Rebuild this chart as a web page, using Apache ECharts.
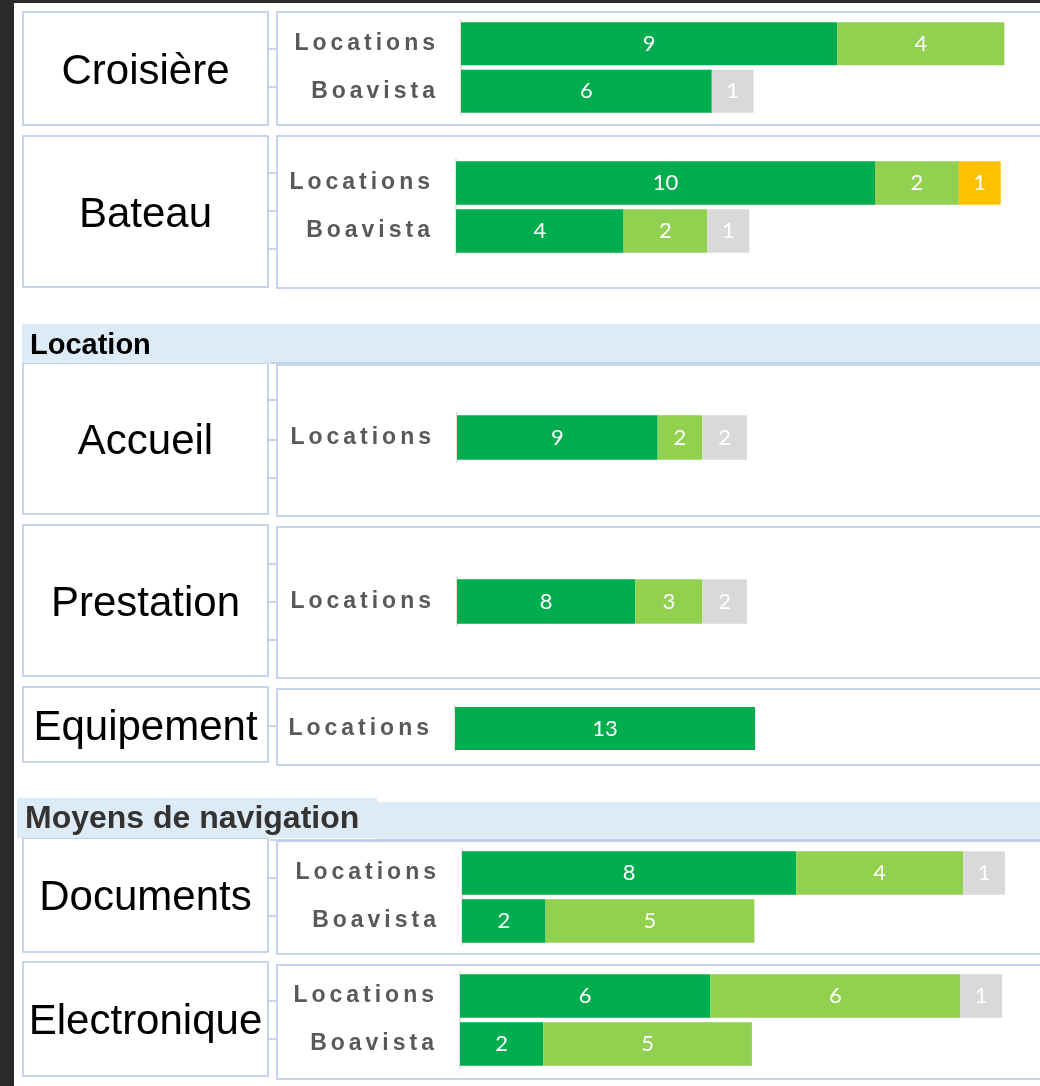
<!DOCTYPE html>
<html>
<head>
<meta charset="utf-8">
<script src="https://cdn.jsdelivr.net/npm/echarts@6/dist/echarts.min.js"></script>
<style>
  html, body { margin: 0; padding: 0; background: #ffffff; }
  #main { width: 1040px; height: 1086px; }
</style>
</head>
<body>
<div id="main"></div>
<script>
// themes (one small chart each) and their rows
const themes = ["Croisière", "Bateau", "Accueil", "Prestation", "Equipement", "Documents", "Electronique"];
const rowLabels = [
  ["Locations", "Boavista"],
  ["Locations", "Boavista"],
  ["Locations"],
  ["Locations"],
  ["Locations"],
  ["Locations", "Boavista"],
  ["Locations", "Boavista"]
];
// counts per satisfaction level, one list per theme
const tresSatisfait = [[9, 6], [10, 4], [9], [8], [13], [8, 2], [6, 2]];
const satisfait     = [[4, 0], [2, 2], [2], [3], [0], [4, 5], [6, 5]];
const peuSatisfait  = [[0, 0], [1, 0], [0], [0], [0], [0, 0], [0, 0]];
const sansAvis      = [[0, 1], [0, 1], [2], [2], [0], [1, 0], [1, 0]];

// section headers
const sections = [
  { text: "Location", after: 1 },
  { text: "Moyens de navigation", after: 4 }
];

// layout
const boxTop = [12, 136, 363, 525, 687, 838, 962];
const boxBottom = [125, 287, 514, 676, 762, 952, 1076];
const plotTop = [12, 136, 365, 527, 689, 841, 965];
const plotBottom = [125, 288, 516, 678, 765, 954, 1079];
const gridLeft = [461, 456, 457, 457, 455, 462, 460];
const gridTop = [20, 159, 413, 577, 705, 849, 972];
const gridHeight = [95, 96, 49, 49, 47, 96, 96];
// pixels per unit of each small chart (each had its own scale)
const unitPx = [41.8, 41.9, 22.3, 22.3, 23.08, 41.77, 41.7];
const tickYs = [[49, 87], [173, 211, 249], [400, 440, 478], [564, 602, 640], [726], [878, 916], [1001, 1039]];

const levels = [
  { name: "Très satisfait", data: tresSatisfait, color: "#00AD4E" },
  { name: "Satisfait", data: satisfait, color: "#92D050" },
  { name: "Peu satisfait", data: peuSatisfait, color: "#FFC000" },
  { name: "Sans avis", data: sansAvis, color: "#D9D9D9" }
];

const BORDER = "#B4C7E7";
const SANS = "'Liberation Sans', Arial, sans-serif";
const W = 1040;

const grids = [], xAxes = [], yAxes = [], series = [], graphics = [];

graphics.push({ type: "rect", shape: { x: 0, y: 0, width: 14, height: 1086 }, style: { fill: "#2B2B2B" }, z: 10 });
graphics.push({ type: "rect", shape: { x: 0, y: 0, width: W, height: 3 }, style: { fill: "#2B2B2B" }, z: 10 });

themes.forEach(function (theme, i) {
  // frames
  graphics.push({
    type: "rect", z: 0,
    shape: { x: 23, y: boxTop[i], width: 245, height: boxBottom[i] - boxTop[i] },
    style: { fill: "#ffffff", stroke: BORDER, lineWidth: 1.5 }
  });
  graphics.push({
    type: "rect", z: 0,
    shape: { x: 277, y: plotTop[i], width: 800, height: plotBottom[i] - plotTop[i] },
    style: { fill: "#ffffff", stroke: BORDER, lineWidth: 1.5 }
  });
  tickYs[i].forEach(function (ty) {
    graphics.push({
      type: "line", z: 1,
      shape: { x1: 268, y1: ty, x2: 277, y2: ty },
      style: { stroke: BORDER, lineWidth: 1.5 }
    });
  });
  graphics.push({
    type: "text", z: 5,
    x: 145.5, y: (boxTop[i] + boxBottom[i]) / 2 + 3.5,
    style: {
      text: theme, fontSize: 42, fontFamily: SANS, fill: "#000000",
      align: "center", verticalAlign: "middle"
    }
  });

  const width = W - gridLeft[i];
  grids.push({ left: gridLeft[i], top: gridTop[i], width: width, height: gridHeight[i] });
  xAxes.push({
    type: "value", gridIndex: i, min: 0, max: width / unitPx[i], show: false,
    splitLine: { show: false }
  });
  yAxes.push({
    type: "category", gridIndex: i, inverse: true, data: rowLabels[i],
    axisLine: { show: true, lineStyle: { color: "#D9D9D9", width: 1.5 } },
    axisTick: { show: false },
    axisLabel: {
      margin: 24,
      formatter: function (v) {
        return v.split("").map(function (ch) { return "{s|" + ch + "}"; }).join("");
      },
      rich: {
        s: {
          fontSize: 23, fontWeight: "bold", fontFamily: SANS, color: "#595959",
          padding: [0, 2, 0, 2]
        }
      }
    }
  });

  levels.forEach(function (lvl) {
    series.push({
      type: "bar",
      name: lvl.name,
      xAxisIndex: i,
      yAxisIndex: i,
      stack: "total" + i,
      data: lvl.data[i],
      barCategoryGap: "9%",
      itemStyle: { color: lvl.color },
      label: {
        show: true, position: "inside", color: "#ffffff",
        fontSize: 22, fontFamily: "Lato, 'Open Sans', sans-serif",
        formatter: function (p) { return p.value ? String(p.value) : ""; }
      },
      emphasis: { disabled: true }
    });
  });
});

// section header bands
graphics.push({ type: "rect", z: 1, shape: { x: 22, y: 324, width: 1020, height: 39 }, style: { fill: "#DDEBF7" } });
graphics.push({ type: "line", z: 1, shape: { x1: 270, y1: 363, x2: W, y2: 363 }, style: { stroke: BORDER, lineWidth: 1.5 } });
graphics.push({
  type: "text", z: 5, x: 30, y: 346,
  style: { text: sections[0].text, fontSize: 29, fontWeight: "bold", fontFamily: SANS, fill: "#000000", verticalAlign: "middle" }
});
graphics.push({ type: "rect", z: 1, shape: { x: 17, y: 798, width: 360, height: 40 }, style: { fill: "#DDEBF7" } });
graphics.push({ type: "rect", z: 1, shape: { x: 377, y: 802, width: 663, height: 38 }, style: { fill: "#DDEBF7" } });
graphics.push({ type: "line", z: 1, shape: { x1: 270, y1: 840, x2: W, y2: 840 }, style: { stroke: BORDER, lineWidth: 1.5 } });
graphics.push({
  type: "text", z: 5, x: 25, y: 819,
  style: { text: sections[1].text, fontSize: 32, fontWeight: "bold", fontFamily: SANS, fill: "#333333", verticalAlign: "middle" }
});

const chart = echarts.init(document.getElementById("main"), null, { renderer: "canvas" });
chart.setOption({
  backgroundColor: "#ffffff",
  animation: false,
  grid: grids,
  xAxis: xAxes,
  yAxis: yAxes,
  series: series,
  graphic: graphics
});
</script>
</body>
</html>
